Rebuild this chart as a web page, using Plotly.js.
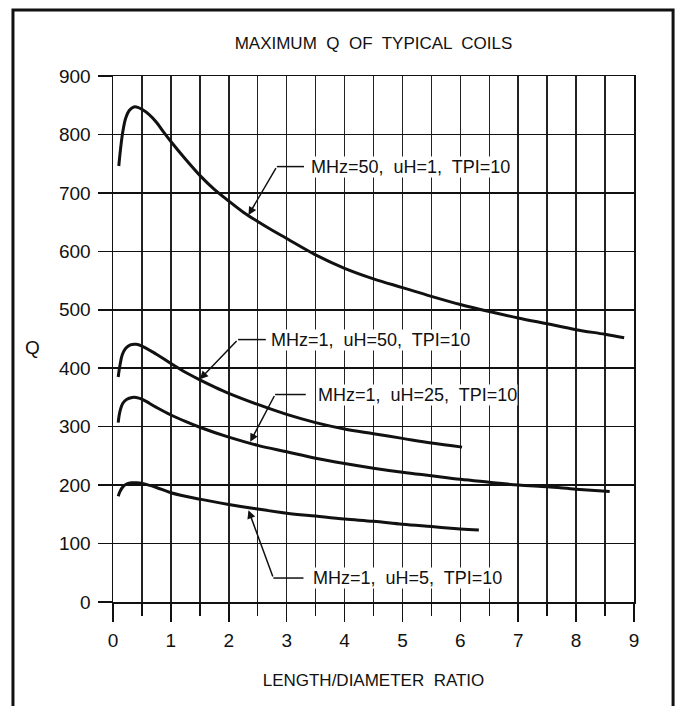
<!DOCTYPE html>
<html>
<head>
<meta charset="utf-8">
<script src="https://cdn.plot.ly/plotly-3.0.1.min.js"></script>
<style>html,body{margin:0;padding:0;background:#fff;}#chart{width:679px;height:706px;}</style>
</head>
<body>
<div id="chart"></div>
<script>
// ---- data ----
const chartTitle = "MAXIMUM  Q  OF  TYPICAL  COILS";
const xTitle = "LENGTH/DIAMETER  RATIO";
const yTitle = "Q";

const seriesNames = [
  "MHz=50,  uH=1,  TPI=10",
  "MHz=1,  uH=50,  TPI=10",
  "MHz=1,  uH=25,  TPI=10",
  "MHz=1,  uH=5,  TPI=10"
];

const ldr50MHz1uH = [0.10,0.13,0.17,0.22,0.28,0.36,0.44,0.5,0.625,0.75,0.875,1.0,1.25,1.5,1.75,2.0,2.25,2.5,2.75,3.0,3.5,4.0,4.5,5.0,5.5,6.0,6.5,7.0,7.5,8.0,8.5,8.83];
const q50MHz1uH   = [746,775,805,828,841,847,846,843,834,821,804,788,758,730,706,686,667,651,636,622,594,571,553,538,523,509,497,486,476,466,458,452];

const ldr1MHz50uH = [0.09,0.12,0.16,0.22,0.30,0.40,0.5,0.75,1.0,1.25,1.5,1.75,2.0,2.5,3.0,3.5,4.0,4.5,5.0,5.5,6.03];
const q1MHz50uH   = [385,405,423,434,440,441,438,424,408,393,380,368,357,338,321,307,296,288,280,272,265];

const ldr1MHz25uH = [0.09,0.12,0.17,0.24,0.33,0.40,0.5,0.75,1.0,1.25,1.5,2.0,2.5,3.0,3.5,4.0,4.5,5.0,5.5,6.0,6.5,7.0,7.5,8.0,8.58];
const q1MHz25uH   = [307,326,340,347,350,350,347,333,320,309,299,282,268,257,246,237,229,222,216,210,205,200,197,193,189];

const ldr1MHz5uH  = [0.09,0.12,0.17,0.24,0.32,0.40,0.5,0.75,1.0,1.5,2.0,2.5,3.0,3.5,4.0,4.5,5.0,5.5,6.0,6.32];
const q1MHz5uH    = [181,189,197,202,204,204,203,196,187,176,167,159,152,147,142,138,133,129,125,123];

const xTickVals = [0,1,2,3,4,5,6,7,8,9];
const yTickVals = [0,100,200,300,400,500,600,700,800,900];

// ---- chart ----
const FONT = "Liberation Sans, Arial, Helvetica, sans-serif";
const INK = "#111";

const xsAll = [ldr50MHz1uH, ldr1MHz50uH, ldr1MHz25uH, ldr1MHz5uH];
const ysAll = [q50MHz1uH, q1MHz50uH, q1MHz25uH, q1MHz5uH];

const traces = xsAll.map((xs, i) => ({
  type: "scatter",
  mode: "lines",
  name: seriesNames[i],
  x: xs,
  y: ysAll[i],
  line: {color: INK, width: 3, shape: "spline", smoothing: 1},
  hoverinfo: "x+y+name"
}));

// label geometry (layout only): text start, bend of leader, arrow tip
const labelGeom = [
  {tx: 3.41, ty: 745, bx: 2.83, hx: 3.30, px: 2.34, py: 662},
  {tx: 2.72, ty: 449, bx: 2.16, hx: 2.64, px: 1.50, py: 381},
  {tx: 3.52, ty: 355, bx: 2.80, hx: 3.33, px: 2.37, py: 274},
  {tx: 3.44, ty: 41,  bx: 2.77, hx: 3.29, px: 2.34, py: 157}
];

const annotations = [];
const shapes = [];
labelGeom.forEach((g, i) => {
  annotations.push({
    x: g.tx, y: g.ty, xref: "x", yref: "y",
    text: seriesNames[i], showarrow: false,
    xanchor: "left", yanchor: "middle",
    font: {family: FONT, size: 18, color: INK},
    bgcolor: "rgba(255,255,255,1)", borderpad: 0
  });
  annotations.push({
    x: g.px, y: g.py, xref: "x", yref: "y",
    ax: g.bx, ay: g.ty, axref: "x", ayref: "y",
    text: "", showarrow: true,
    arrowhead: 2, arrowsize: 1.1, arrowwidth: 1.5, arrowcolor: INK, standoff: 0
  });
  shapes.push({
    type: "line", xref: "x", yref: "y",
    x0: g.bx, y0: g.ty, x1: g.hx, y1: g.ty,
    line: {color: INK, width: 1.5}
  });
});

annotations.push({
  x: -0.154, y: 0.483, xref: "paper", yref: "paper",
  text: yTitle, showarrow: false, xanchor: "center", yanchor: "middle",
  font: {family: FONT, size: 19, color: INK}
});

// outer frame
shapes.push({
  type: "rect", xref: "paper", yref: "paper",
  x0: -0.192, x1: 1.075, y0: -0.25, y1: 1.1255,
  line: {color: INK, width: 3}, fillcolor: "rgba(0,0,0,0)", layer: "below"
});

const layout = {
  width: 679, height: 706,
  margin: {l: 113, r: 45, t: 76, b: 104},
  paper_bgcolor: "#fff", plot_bgcolor: "#fff",
  showlegend: false,
  font: {family: FONT, color: INK},
  title: {
    text: chartTitle, x: 0.5, xref: "paper", xanchor: "center",
    y: 1 - 43/706, yref: "container", yanchor: "middle",
    font: {family: FONT, size: 17, color: INK}
  },
  xaxis: {
    range: [0, 9], tickvals: xTickVals, ticktext: xTickVals.map(String),
    showgrid: true, gridcolor: "#222", gridwidth: 1.5,
    zeroline: false, showline: true, linecolor: INK, linewidth: 1.5, mirror: true,
    ticks: "outside", ticklen: 18, tickwidth: 1.5, tickcolor: INK,
    minor: {dtick: 0.5, tick0: 0, showgrid: true, gridcolor: "#222", gridwidth: 1.5,
            ticks: "outside", ticklen: 12, tickwidth: 1.5, tickcolor: INK},
    tickfont: {family: FONT, size: 19, color: INK},
    ticklabelstandoff: 3,
    title: {text: xTitle, standoff: 24, font: {family: FONT, size: 17, color: INK}},
    fixedrange: true
  },
  yaxis: {
    range: [0, 900], tickvals: yTickVals, ticktext: yTickVals.map(String),
    showgrid: true, gridcolor: "#111", gridwidth: 1.5,
    zeroline: false, showline: true, linecolor: INK, linewidth: 1.5, mirror: true,
    ticks: "outside", ticklen: 14, tickwidth: 1.5, tickcolor: INK,
    tickfont: {family: FONT, size: 19, color: INK},
    ticklabelstandoff: 3,
    fixedrange: true
  },
  annotations: annotations,
  shapes: shapes
};

Plotly.newPlot("chart", traces, layout, {displayModeBar: false, staticPlot: true});
</script>
</body>
</html>
